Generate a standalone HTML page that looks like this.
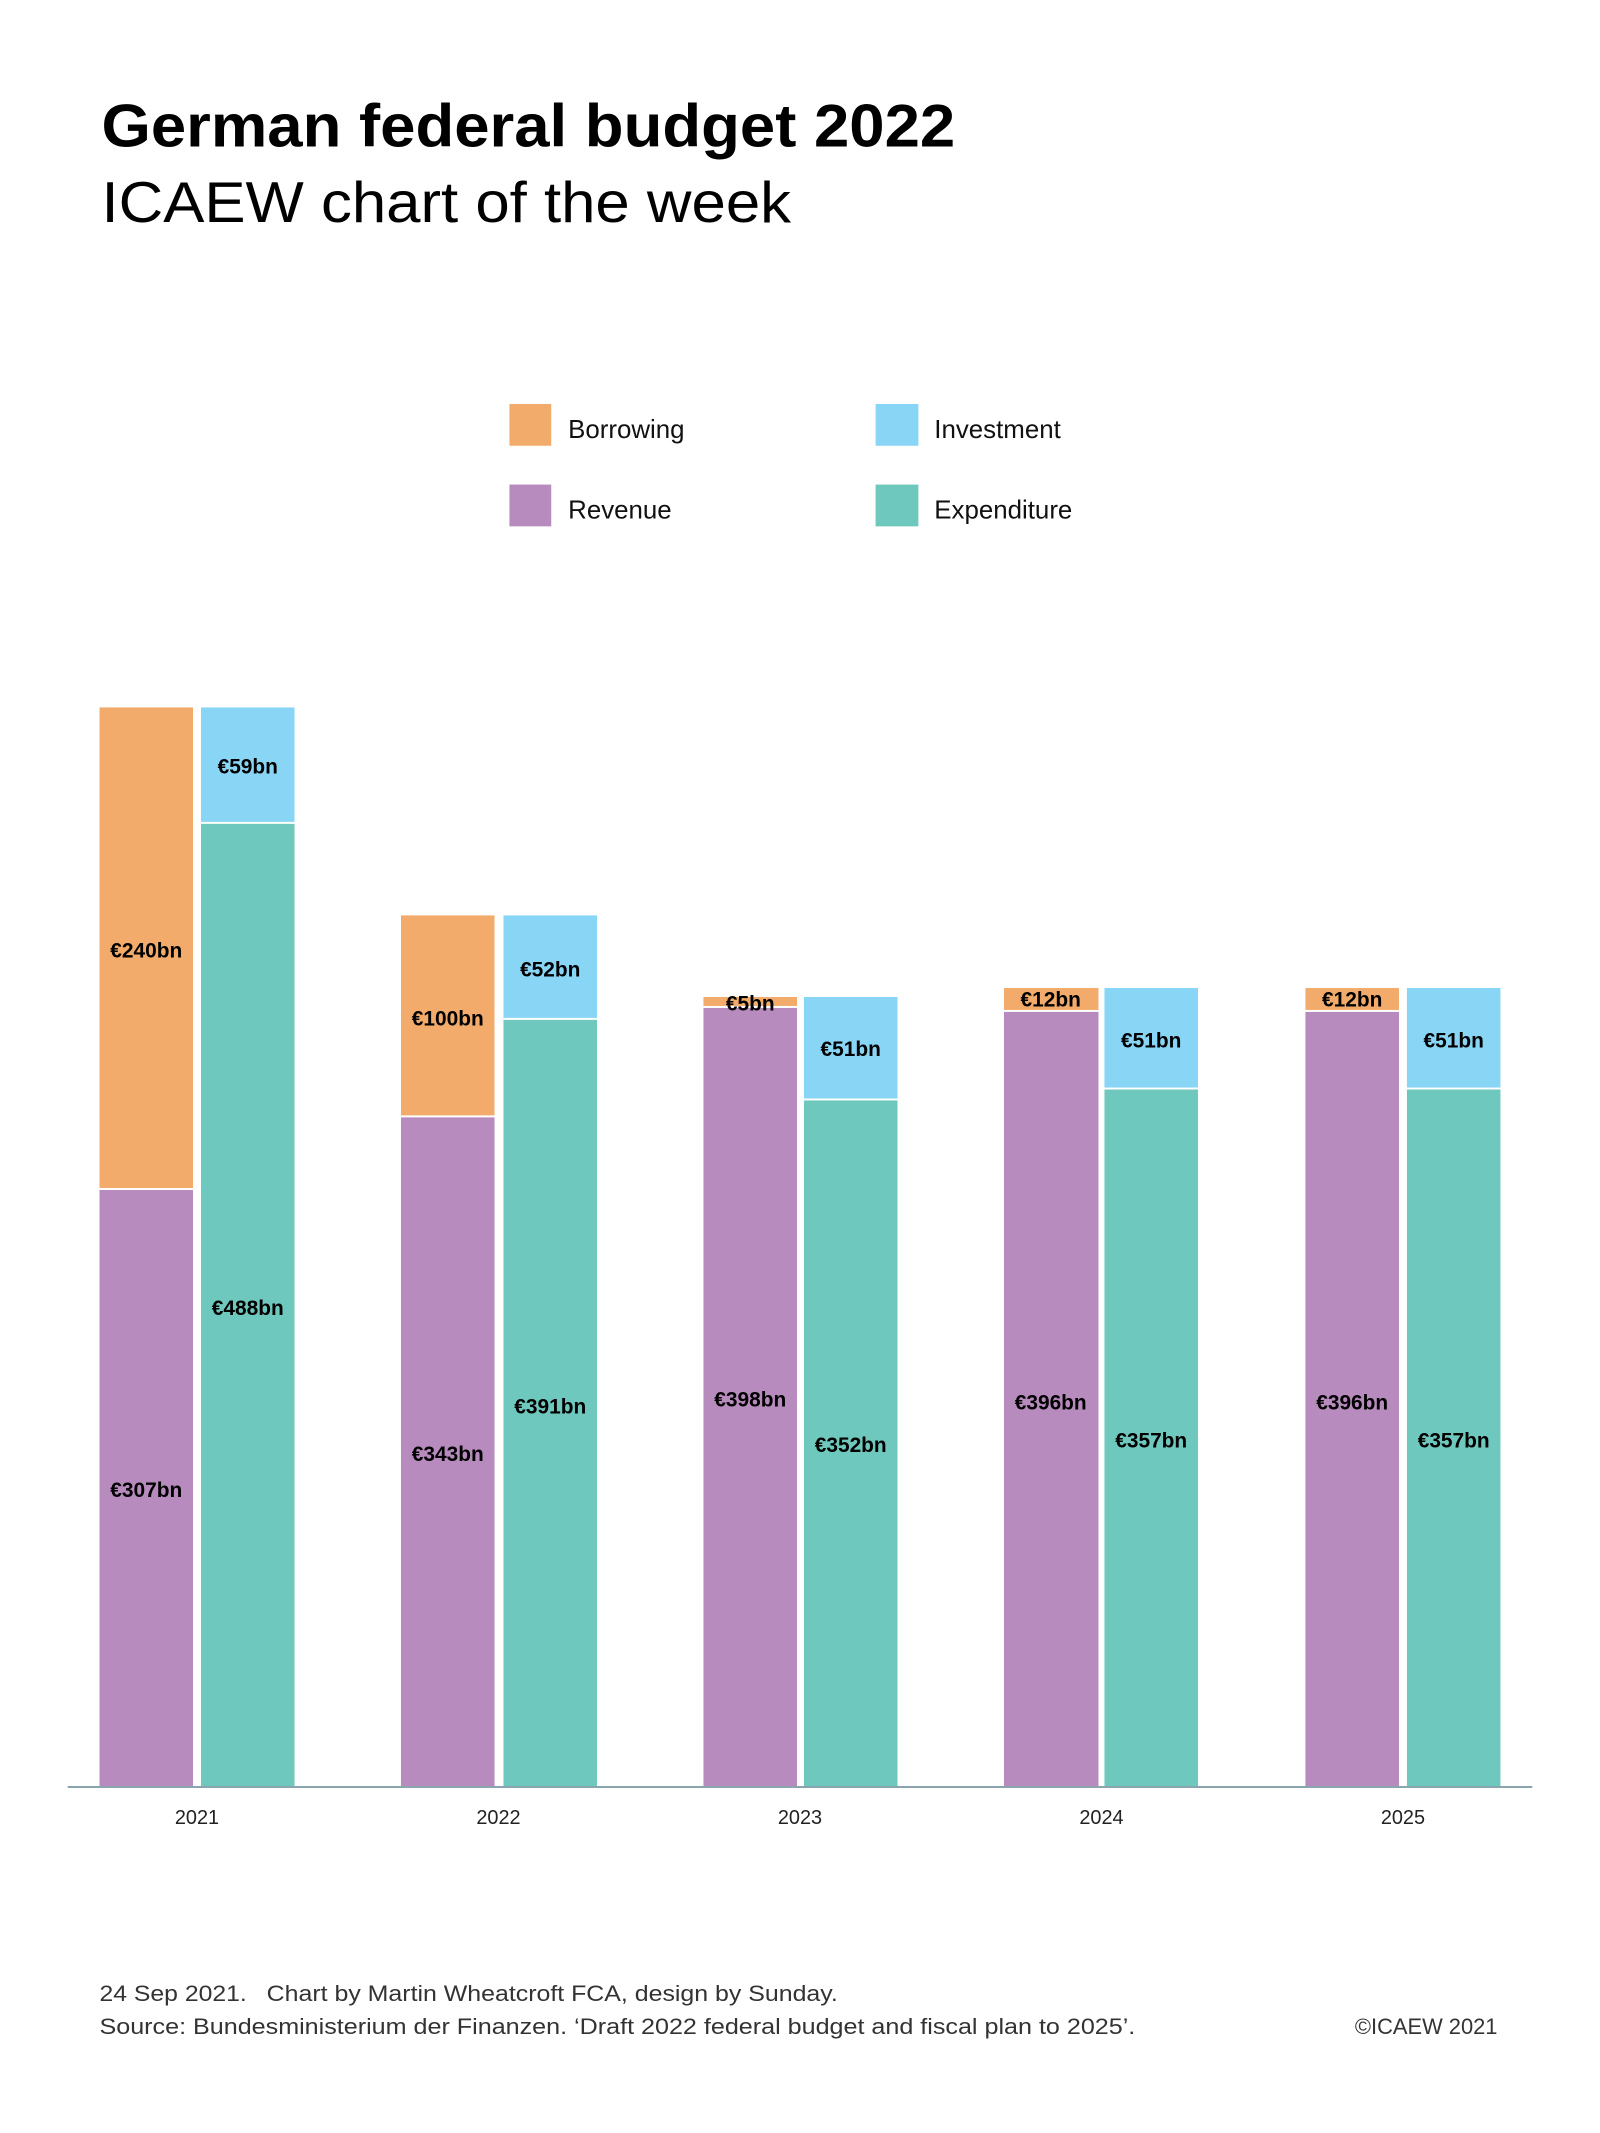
<!DOCTYPE html>
<html><head><meta charset="utf-8"><style>
html,body{margin:0;padding:0;background:#fff;}
svg{display:block;}
text{font-family:"Liberation Sans",sans-serif;}
.v{font-weight:bold;font-size:21px;fill:#000;text-anchor:middle;dominant-baseline:central;}
.yr{font-size:20px;fill:#222;text-anchor:middle;dominant-baseline:central;}
.lg{font-size:26px;fill:#111;dominant-baseline:central;}
.ft{font-size:22px;fill:#333;}
</style></head><body>
<svg width="1600" height="2133" viewBox="0 0 1600 2133" xmlns="http://www.w3.org/2000/svg">
<rect width="1600" height="2133" fill="#fff"/>
<g transform="scale(0.995)">
<text x="102" y="147" font-size="61" font-weight="bold" fill="#000" textLength="858" lengthAdjust="spacingAndGlyphs">German federal budget 2022</text>
<text x="102" y="223" font-size="58" fill="#000" textLength="693" lengthAdjust="spacingAndGlyphs">ICAEW chart of the week</text>

<rect x="512" y="406" width="42" height="42" fill="#F2AB6A"/>
<text class="lg" x="571" y="432">Borrowing</text>
<rect x="880" y="406" width="43" height="42" fill="#89D5F6"/>
<text class="lg" x="939" y="432">Investment</text>
<rect x="512" y="487" width="42" height="42" fill="#B78BBD"/>
<text class="lg" x="571" y="513">Revenue</text>
<rect x="880" y="487" width="43" height="42" fill="#6FC8BD"/>
<text class="lg" x="939" y="513">Expenditure</text>

<rect x="100" y="711" width="94" height="483" fill="#F2AB6A"/>
<rect x="100" y="1196" width="94" height="599" fill="#B78BBD"/>
<rect x="202" y="711" width="94" height="115" fill="#89D5F6"/>
<rect x="202" y="828" width="94" height="967" fill="#6FC8BD"/>
<text class="v" x="147" y="956">€240bn</text>
<text class="v" x="147" y="1498">€307bn</text>
<text class="v" x="249" y="771">€59bn</text>
<text class="v" x="249" y="1315">€488bn</text>

<rect x="403" y="920" width="94" height="201" fill="#F2AB6A"/>
<rect x="403" y="1123" width="94" height="672" fill="#B78BBD"/>
<rect x="506" y="920" width="94" height="103" fill="#89D5F6"/>
<rect x="506" y="1025" width="94" height="770" fill="#6FC8BD"/>
<text class="v" x="450" y="1024">€100bn</text>
<text class="v" x="450" y="1462">€343bn</text>
<text class="v" x="553" y="975">€52bn</text>
<text class="v" x="553" y="1414">€391bn</text>

<rect x="707" y="1002" width="94" height="9" fill="#F2AB6A"/>
<rect x="707" y="1013" width="94" height="782" fill="#B78BBD"/>
<rect x="808" y="1002" width="94" height="102" fill="#89D5F6"/>
<rect x="808" y="1106" width="94" height="689" fill="#6FC8BD"/>
<text class="v" x="754" y="1009">€5bn</text>
<text class="v" x="754" y="1407">€398bn</text>
<text class="v" x="855" y="1055">€51bn</text>
<text class="v" x="855" y="1453">€352bn</text>

<rect x="1009" y="993" width="95" height="22" fill="#F2AB6A"/>
<rect x="1009" y="1017" width="95" height="778" fill="#B78BBD"/>
<rect x="1110" y="993" width="94" height="100" fill="#89D5F6"/>
<rect x="1110" y="1095" width="94" height="700" fill="#6FC8BD"/>
<text class="v" x="1056" y="1005">€12bn</text>
<text class="v" x="1056" y="1410">€396bn</text>
<text class="v" x="1157" y="1046">€51bn</text>
<text class="v" x="1157" y="1448">€357bn</text>

<rect x="1312" y="993" width="94" height="22" fill="#F2AB6A"/>
<rect x="1312" y="1017" width="94" height="778" fill="#B78BBD"/>
<rect x="1414" y="993" width="94" height="100" fill="#89D5F6"/>
<rect x="1414" y="1095" width="94" height="700" fill="#6FC8BD"/>
<text class="v" x="1359" y="1005">€12bn</text>
<text class="v" x="1359" y="1410">€396bn</text>
<text class="v" x="1461" y="1046">€51bn</text>
<text class="v" x="1461" y="1448">€357bn</text>

<line x1="68" y1="1796" x2="1540" y2="1796" stroke="#8aa5ad" stroke-width="2"/>
<text class="yr" x="198" y="1827">2021</text>
<text class="yr" x="501" y="1827">2022</text>
<text class="yr" x="804" y="1827">2023</text>
<text class="yr" x="1107" y="1827">2024</text>
<text class="yr" x="1410" y="1827">2025</text>

<text class="ft" x="100" y="2011" textLength="148" lengthAdjust="spacingAndGlyphs">24 Sep 2021.</text>
<text class="ft" x="268" y="2011" textLength="574" lengthAdjust="spacingAndGlyphs">Chart by Martin Wheatcroft FCA, design by Sunday.</text>
<text class="ft" x="100" y="2044" textLength="1041" lengthAdjust="spacingAndGlyphs">Source: Bundesministerium der Finanzen. ‘Draft 2022 federal budget and fiscal plan to 2025’.</text>
<text class="ft" x="1505" y="2044" text-anchor="end">©ICAEW 2021</text>
</g>
</svg>
</body></html>
